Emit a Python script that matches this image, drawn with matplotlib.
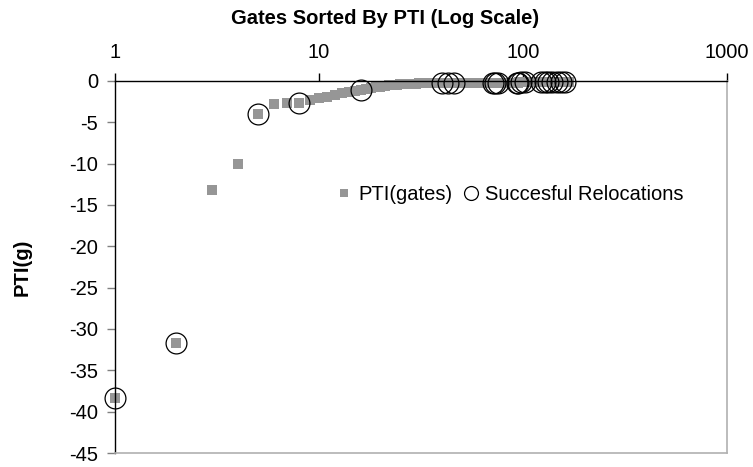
import matplotlib
matplotlib.use("Agg")
import matplotlib.pyplot as plt
from matplotlib.lines import Line2D

plt.rcParams["font.family"] = ["Liberation Sans", "DejaVu Sans"]

# PTI value of each gate, gates sorted by PTI (rank 1..169)
pti = [
    -38.4, -31.7, -13.2, -10.1, -4.05, -2.75, -2.70, -2.65, -2.35, -2.10,
    -1.90, -1.70, -1.50, -1.35, -1.20, -1.05, -0.95, -0.85, -0.75, -0.67,
    -0.60, -0.54, -0.49, -0.45, -0.42, -0.39, -0.36, -0.34, -0.32, -0.31,
    -0.30, -0.29, -0.29, -0.28, -0.28, -0.27, -0.27, -0.26, -0.26, -0.25,
    -0.25, -0.25, -0.25, -0.24, -0.24, -0.24, -0.24, -0.24, -0.23, -0.23,
    -0.23, -0.23, -0.23, -0.23, -0.22, -0.22, -0.22, -0.22, -0.22, -0.22,
    -0.22, -0.21, -0.21, -0.21, -0.21, -0.21, -0.21, -0.21, -0.21, -0.21,
    -0.21, -0.21, -0.21, -0.20, -0.20, -0.20, -0.20, -0.20, -0.20, -0.20,
    -0.20, -0.20, -0.20, -0.20, -0.20, -0.19, -0.19, -0.19, -0.19, -0.19,
    -0.19, -0.19, -0.19, -0.19, -0.19, -0.18, -0.18, -0.18, -0.18, -0.18,
    -0.18, -0.18, -0.18, -0.18, -0.18, -0.17, -0.17, -0.17, -0.17, -0.17,
    -0.17, -0.17, -0.17, -0.17, -0.17, -0.16, -0.16, -0.16, -0.16, -0.16,
    -0.16, -0.16, -0.16, -0.16, -0.16, -0.15, -0.15, -0.15, -0.15, -0.15,
    -0.15, -0.15, -0.15, -0.15, -0.14, -0.14, -0.14, -0.14, -0.14, -0.14,
    -0.14, -0.14, -0.14, -0.13, -0.13, -0.13, -0.13, -0.13, -0.13, -0.13,
    -0.13, -0.13, -0.13, -0.12, -0.12, -0.12, -0.12, -0.12, -0.12, -0.12,
    -0.12, -0.12, -0.12, -0.11, -0.11, -0.11, -0.11, -0.10, -0.10,
]
rank = list(range(1, len(pti) + 1))

# ranks of the gates that were successfully relocated
reloc_rank = [1, 2, 5, 8, 16, 40, 43, 46, 71, 73, 75, 93, 95, 98, 102,
              123, 128, 132, 138, 146, 154, 160]
reloc_pti = [pti[r - 1] for r in reloc_rank]

x_ticks = [1, 10, 100, 1000]
y_ticks = list(range(0, -50, -5))

GRAY = "#969696"
FS = 14.5

fig = plt.figure(figsize=(7.53, 4.67), dpi=100)
ax = fig.add_axes([115 / 753, 1 - 453 / 467, (727 - 115) / 753, (453 - 81) / 467])

ax.plot(rank, pti, "s", color=GRAY, markersize=7, markeredgewidth=0,
        zorder=2, clip_on=False)
ax.plot(reloc_rank, reloc_pti, "o", markerfacecolor="none", markeredgecolor="black",
        markersize=15, markeredgewidth=0.9, zorder=3, clip_on=False)

ax.set_xscale("log")
ax.set_xlim(1, 1000)
ax.set_ylim(-45, 0)
ax.set_xticks(x_ticks)
ax.set_xticklabels([str(v) for v in x_ticks])
ax.xaxis.set_minor_locator(matplotlib.ticker.NullLocator())
ax.set_yticks(y_ticks)
ax.set_yticklabels([str(v) for v in y_ticks])

ax.xaxis.tick_top()
ax.tick_params(axis="x", direction="out", length=6, width=1, color="black",
               labelsize=FS, pad=8)
ax.tick_params(axis="y", direction="out", length=6, width=1, color="#808080",
               labelsize=FS, pad=6)

for s in ("top", "left"):
    ax.spines[s].set_color("black")
    ax.spines[s].set_linewidth(1)
for s in ("bottom", "right"):
    ax.spines[s].set_color("#b0b0b0")
    ax.spines[s].set_linewidth(1.2)

ax.set_ylabel("PTI(g)", fontsize=FS, fontweight="bold")
ax.yaxis.set_label_coords((32 - 115) / 612, 0.5)
fig.text(385 / 753, 1 - 19 / 467, "Gates Sorted By PTI (Log Scale)",
         ha="center", va="center", fontsize=FS, fontweight="bold")

handles = [
    Line2D([], [], ls="none", marker="s", color=GRAY, markersize=6, markeredgewidth=0),
    Line2D([], [], ls="none", marker="o", markerfacecolor="none",
           markeredgecolor="black", markersize=10, markeredgewidth=0.9),
]
fig.legend(handles, ["PTI(gates)", "Succesful Relocations"], loc="center left",
           bbox_to_anchor=(318 / 753, 1 - 195 / 467), ncol=2, frameon=False,
           fontsize=FS, handlelength=0.8, handletextpad=0.3, columnspacing=0.5)

fig.savefig("out.png", dpi=100)
